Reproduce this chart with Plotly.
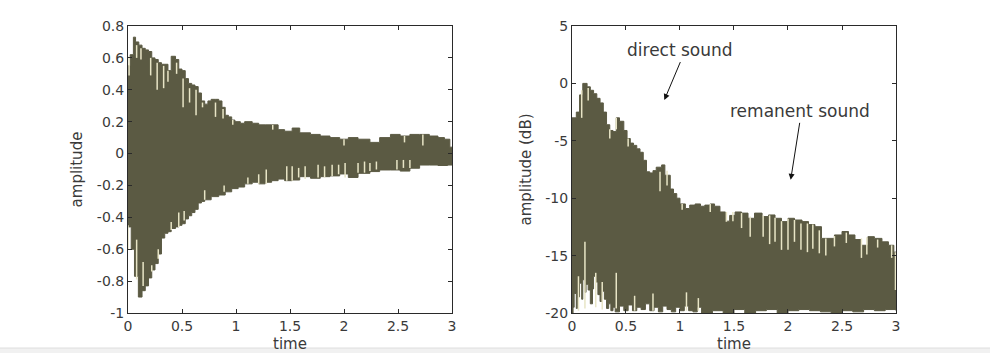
import plotly.graph_objects as go

# ---------------- data ----------------
# Left panel: waveform envelope (amplitude vs time)
wave_up_t = [0.00, 0.02, 0.05, 0.07, 0.10, 0.13, 0.16, 0.19, 0.22, 0.25, 0.28, 0.31, 0.34, 0.37,
             0.40, 0.44, 0.47, 0.50, 0.53, 0.56, 0.59, 0.62, 0.65, 0.68, 0.71, 0.74, 0.77, 0.81,
             0.84, 0.87, 0.90, 0.93, 0.96, 0.99, 1.04, 1.08, 1.15, 1.21, 1.27, 1.33, 1.39, 1.45,
             1.52, 1.59, 1.69, 1.78, 1.87, 1.96, 2.04, 2.13, 2.24, 2.33, 2.43, 2.52, 2.61, 2.70,
             2.79, 2.87, 2.93, 2.98, 3.00]
wave_up_v = [0.55, 0.62, 0.73, 0.70, 0.68, 0.66, 0.65, 0.64, 0.60, 0.59, 0.57, 0.56, 0.56, 0.52,
             0.61, 0.59, 0.53, 0.52, 0.47, 0.44, 0.43, 0.42, 0.38, 0.33, 0.31, 0.33, 0.34, 0.34,
             0.33, 0.29, 0.24, 0.23, 0.21, 0.20, 0.19, 0.20, 0.19, 0.18, 0.18, 0.18, 0.15, 0.14,
             0.16, 0.13, 0.12, 0.11, 0.10, 0.09, 0.10, 0.09, 0.07, 0.10, 0.12, 0.11, 0.12, 0.12,
             0.11, 0.10, 0.09, 0.04, 0.04]
wave_lo_t = [0.00, 0.02, 0.03, 0.06, 0.096, 0.13, 0.16, 0.19, 0.22, 0.25, 0.28, 0.31, 0.34, 0.37,
             0.40, 0.44, 0.47, 0.50, 0.53, 0.56, 0.59, 0.62, 0.65, 0.68, 0.71, 0.77, 0.84, 0.90,
             0.96, 1.02, 1.08, 1.15, 1.21, 1.27, 1.33, 1.39, 1.45, 1.52, 1.59, 1.69, 1.78, 1.87,
             1.96, 2.04, 2.13, 2.24, 2.33, 2.43, 2.52, 2.61, 2.70, 2.79, 2.87, 2.96, 3.00]
wave_lo_v = [-0.46, -0.46, -0.60, -0.77, -0.90, -0.86, -0.83, -0.78, -0.73, -0.69, -0.63, -0.53,
             -0.50, -0.49, -0.47, -0.46, -0.45, -0.44, -0.41, -0.39, -0.37, -0.35, -0.31, -0.30,
             -0.29, -0.27, -0.26, -0.24, -0.22, -0.21, -0.19, -0.18, -0.19, -0.18, -0.17, -0.16,
             -0.17, -0.166, -0.145, -0.155, -0.145, -0.14, -0.128, -0.15, -0.124, -0.113, -0.103,
             -0.103, -0.11, -0.092, -0.072, -0.072, -0.075, -0.072, -0.07]

# pale streaks inside the left waveform: time, start, end
wave_streak_t = [0.01, 0.08, 0.12, 0.21, 0.27, 0.33, 0.37, 0.45, 0.51, 0.57, 0.63, 0.69, 0.81, 0.88,
                 0.97, 1.34, 2.00, 2.56, 2.73,
                 0.00, 0.08, 0.14, 0.22, 0.28, 0.40, 0.47, 0.52, 0.71, 0.89, 1.11, 1.21, 1.28, 1.47,
                 1.52, 1.58, 1.64, 1.76, 1.82, 1.89, 1.95, 2.01, 2.13, 2.19, 2.24, 2.30, 2.49, 2.55, 2.61]
wave_streak_a = [0.61, 0.68, 0.66, 0.60, 0.57, 0.55, 0.52, 0.57, 0.47, 0.41, 0.40, 0.32, 0.32, 0.28,
                 0.21, 0.18, 0.09, 0.11, 0.12,
                 -0.45, -0.54, -0.68, -0.70, -0.60, -0.43, -0.37, -0.36, -0.23, -0.20, -0.15, -0.13,
                 -0.10, -0.08, -0.08, -0.09, -0.08, -0.07, -0.08, -0.07, -0.07, -0.06, -0.06, -0.05,
                 -0.06, -0.05, -0.04, -0.04, -0.04]
wave_streak_b = [0.49, 0.60, 0.59, 0.49, 0.40, 0.41, 0.45, 0.50, 0.29, 0.32, 0.24, 0.29, 0.23, 0.22,
                 0.18, 0.15, 0.05, 0.07, 0.05,
                 -0.60, -0.79, -0.83, -0.74, -0.66, -0.48, -0.46, -0.42, -0.29, -0.24, -0.19, -0.19,
                 -0.19, -0.17, -0.17, -0.15, -0.16, -0.15, -0.15, -0.14, -0.13, -0.15, -0.12, -0.12,
                 -0.11, -0.10, -0.10, -0.09, -0.09]

# Right panel: level in dB
db_up_t = [0.00, 0.04, 0.07, 0.10, 0.14, 0.17, 0.20, 0.23, 0.26, 0.29, 0.32, 0.35, 0.38, 0.41,
           0.44, 0.48, 0.51, 0.54, 0.57, 0.60, 0.63, 0.66, 0.69, 0.72, 0.75, 0.78, 0.83, 0.86,
           0.91, 0.94, 0.97, 1.00, 1.05, 1.09, 1.14, 1.19, 1.23, 1.28, 1.32, 1.37, 1.42, 1.46,
           1.51, 1.57, 1.63, 1.69, 1.76, 1.82, 1.88, 1.94, 2.00, 2.06, 2.13, 2.19, 2.25, 2.31,
           2.37, 2.43, 2.50, 2.56, 2.62, 2.68, 2.74, 2.80, 2.87, 2.93, 2.98, 3.00]
db_up_v = [-3.0, -2.5, -1.0, 0.0, -0.3, -0.6, -0.9, -1.3, -1.7, -2.5, -3.6, -4.1, -4.2, -3.0,
           -3.3, -4.1, -4.8, -5.2, -5.4, -5.7, -6.0, -6.7, -7.7, -7.8, -7.6, -7.3, -7.1, -8.0,
           -9.2, -9.6, -10.0, -10.5, -10.9, -10.6, -10.5, -10.7, -10.6, -10.5, -10.7, -11.2, -12.0, -11.5,
           -11.2, -11.3, -11.75, -11.3, -11.6, -11.46, -11.75, -12.04, -11.75, -11.9, -12.04, -12.3, -12.48, -13.5,
           -13.5, -13.2, -12.9, -13.2, -13.6, -14.1, -13.35, -13.5, -13.8, -14.1, -14.7, -14.7]
db_lo_t = [0.00, 0.01, 0.02, 0.04, 0.05, 0.07, 0.09, 0.10, 0.12, 0.13, 0.15, 0.17, 0.19, 0.20,
           0.22, 0.24, 0.26, 0.28, 0.30, 0.32, 0.34, 0.36, 0.38, 0.40, 0.44, 0.48, 0.52, 0.56,
           0.60, 0.64, 0.68, 0.72, 0.76, 0.80, 0.84, 0.88, 0.92, 0.96, 1.00, 1.04, 1.08, 1.12,
           1.16, 1.20, 1.30, 1.40, 1.50, 1.60, 1.70, 1.80, 1.90, 2.00, 2.10, 2.20, 2.30, 2.40,
           2.50, 2.60, 2.70, 2.80, 2.90, 3.00]
db_lo_v = [-20.0, -19.5, -18.3, -19.6, -18.6, -17.4, -18.8, -17.1, -18.2, -17.5, -18.0, -19.2, -17.9, -16.8,
           -17.3, -18.4, -19.0, -18.1, -18.8, -19.6, -19.2, -19.8, -19.5, -19.9, -19.4, -19.8, -19.3, -19.8,
           -19.5, -19.7, -19.2, -19.8, -19.5, -19.9, -19.4, -19.7, -19.9, -19.5, -19.8, -19.4, -19.8, -19.9,
           -19.5, -20.0, -19.8, -20.0, -19.7, -20.0, -19.8, -19.7, -20.0, -19.8, -19.7, -19.8, -19.9, -20.0,
           -19.8, -19.9, -19.7, -19.8, -19.7, -19.8]

db_streak_t = [0.09, 0.15, 0.35, 0.41, 0.52, 0.815, 0.88, 1.02, 1.28, 1.43, 1.49, 1.57, 1.65, 1.77,
               1.83, 1.88, 1.94, 2.00, 2.06, 2.12, 2.18, 2.23, 2.29, 2.35, 2.43, 2.54, 2.68, 2.73,
               2.83, 2.96, 2.995,
               0.06, 0.12, 0.22, 0.28, 0.41, 0.58, 0.75, 1.06, 1.17]
db_streak_a = [-0.6, -0.4, -4.0, -3.0, -4.8, -7.7, -7.6, -10.5, -10.5, -11.2, -11.2, -11.3, -11.6, -11.5,
               -11.5, -11.7, -12.0, -11.8, -11.9, -12.2, -12.2, -12.3, -12.8, -13.5, -13.3, -13.0, -13.5, -13.4,
               -13.6, -14.1, -14.7,
               -19.8, -19.6, -19.5, -19.7, -19.6, -19.8, -19.8, -19.8, -19.8]
db_streak_b = [-3.0, -1.5, -4.8, -4.0, -5.5, -9.4, -8.9, -11.0, -11.2, -12.05, -12.0, -12.6, -13.35, -13.35,
               -14.0, -13.8, -14.5, -14.5, -13.8, -14.5, -14.7, -14.4, -14.8, -15.0, -14.2, -13.9, -15.2, -14.9,
               -14.3, -15.2, -18.0,
               -16.8, -13.8, -16.5, -17.3, -16.5, -18.5, -18.3, -18.2, -18.7]

left_yticks = [-1, -0.8, -0.6, -0.4, -0.2, 0, 0.2, 0.4, 0.6, 0.8]
left_ytext = ["-1", "-0.8", "-0.6", "-0.4", "-0.2", "0", "0.2", "0.4", "0.6", "0.8"]
right_yticks = [-20, -15, -10, -5, 0, 5]
right_ytext = ["-20", "-15", "-10", "-5", "0", "5"]
xticks = [0, 0.5, 1, 1.5, 2, 2.5, 3]
xtext = ["0", "0.5", "1", "1.5", "2", "2.5", "3"]

notes = [("direct sound", 0.855, -1.45, 16, -38),
         ("remanent sound", 2.025, -8.4, 9, -57)]

# ---------------- styling ----------------
FILL = "#5b5a43"
PALE = "#e8e5c6"
AX = "#2a2a2a"
TXT = "#3a3a3a"
FONT = "DejaVu Sans"


def streaks(ts, a, b):
    xs, ys = [], []
    for t, y0, y1 in zip(ts, a, b):
        xs += [t, t, None]
        ys += [y0, y1, None]
    return xs, ys


fig = go.Figure()

# left panel
fig.add_trace(go.Scatter(x=wave_lo_t, y=wave_lo_v, mode="lines", line=dict(color=FILL, width=1, shape="hv"),
                         xaxis="x", yaxis="y", showlegend=False, hoverinfo="skip"))
fig.add_trace(go.Scatter(x=wave_up_t, y=wave_up_v, mode="lines", line=dict(color=FILL, width=1, shape="hv"),
                         fill="tonexty", fillcolor=FILL, xaxis="x", yaxis="y", showlegend=False, hoverinfo="skip"))
sx, sy = streaks(wave_streak_t, wave_streak_a, wave_streak_b)
fig.add_trace(go.Scatter(x=sx, y=sy, mode="lines", line=dict(color=PALE, width=1.5),
                         xaxis="x", yaxis="y", showlegend=False, hoverinfo="skip"))

# right panel
fig.add_trace(go.Scatter(x=db_lo_t, y=db_lo_v, mode="lines", line=dict(color=FILL, width=1, shape="hv"),
                         xaxis="x2", yaxis="y2", showlegend=False, hoverinfo="skip"))
fig.add_trace(go.Scatter(x=db_up_t, y=db_up_v, mode="lines", line=dict(color=FILL, width=1, shape="hv"),
                         fill="tonexty", fillcolor=FILL, xaxis="x2", yaxis="y2", showlegend=False, hoverinfo="skip"))
sx, sy = streaks(db_streak_t, db_streak_a, db_streak_b)
fig.add_trace(go.Scatter(x=sx, y=sy, mode="lines", line=dict(color=PALE, width=1.5),
                         xaxis="x2", yaxis="y2", showlegend=False, hoverinfo="skip"))

axis_common = dict(showline=True, mirror="ticks", linecolor=AX, linewidth=1, ticks="inside", ticklen=4,
                   tickcolor=AX, showgrid=False, zeroline=False, automargin=False,
                   tickfont=dict(family=FONT, size=14, color=TXT))

fig.update_layout(
    width=990, height=353,
    margin=dict(l=128, r=94, t=26, b=40, autoexpand=False),
    paper_bgcolor="white", plot_bgcolor="white",
    font=dict(family=FONT, color=TXT),
    xaxis=dict(domain=[0, 0.4219], range=[0, 3], tickvals=xticks, ticktext=xtext,
               title=dict(text="time", font=dict(family=FONT, size=15, color=TXT), standoff=5), **axis_common),
    yaxis=dict(range=[-1, 0.8], tickvals=left_yticks, ticktext=left_ytext, anchor="x",
               title=dict(text="amplitude", font=dict(family=FONT, size=15, color=TXT), standoff=10), **axis_common),
    xaxis2=dict(domain=[0.5781, 1], range=[0, 3], tickvals=xticks, ticktext=xtext, anchor="y2",
                title=dict(text="time", font=dict(family=FONT, size=15, color=TXT), standoff=5), **axis_common),
    yaxis2=dict(range=[-20, 5], tickvals=right_yticks, ticktext=right_ytext, anchor="x2",
                title=dict(text="amplitude (dB)", font=dict(family=FONT, size=15, color=TXT), standoff=10),
                **axis_common),
)

for text, x, y, ax, ay in notes:
    fig.add_annotation(x=x, y=y, xref="x2", yref="y2", text=text, showarrow=True, ax=ax, ay=ay,
                       arrowhead=2, arrowsize=1.2, arrowwidth=1, arrowcolor="#111",
                       yanchor="bottom", font=dict(family=FONT, size=17, color=TXT))

# faint strip at the bottom of the picture
fig.add_shape(type="rect", xref="paper", yref="paper", x0=-0.2, x1=1.2, y0=-0.16, y1=-0.1220,
              fillcolor="#f1f1f1", line=dict(color="#dedede", width=1), layer="below")

fig.write_html("out.html")
